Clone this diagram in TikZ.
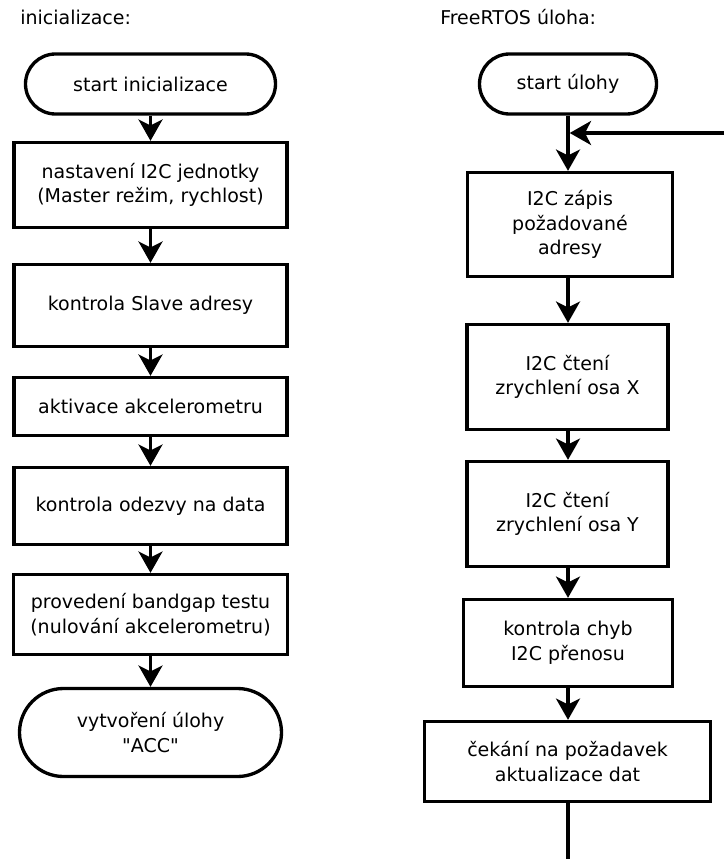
\documentclass[tikz,border=0pt]{standalone}
\usepackage{fontspec}
\setmainfont{DejaVu Sans}[Ligatures=TeXOff]
\usetikzlibrary{arrows.meta}

\tikzset{
  box/.style={draw, line width=2.5pt, rectangle, align=center, inner sep=0pt,
    font=\fontsize{14.25pt}{18.4pt}\selectfont},
  term/.style={box, rounded corners=#1},
  arr/.style={line width=2.5pt, -{Stealth[length=16pt, width=18pt, inset=4.5pt]}},
  flow/.style={line width=2.5pt},
  heading/.style={anchor=base west, inner sep=0pt, font=\fontsize{14.25pt}{18.4pt}\selectfont}
}

\begin{document}
\begin{tikzpicture}[x=0.75pt, y=-0.75pt]
  \useasboundingbox (0,0) rectangle (724,859);

  % column headings
  \node[heading] (hl) at (20,25) {inicializace:};
  \node[heading] (hr) at (440,25) {FreeRTOS úloha:};

  % initialisation sequence
  \node[term=22.5pt, minimum width=250*0.75pt, minimum height=60*0.75pt] (t1) at (150.5,84) {start inicializace};
  \node[box, minimum width=273*0.75pt, minimum height=85*0.75pt] (b1) at (150.5,185) {nastavení I2C jednotky\\(Master režim, rychlost)};
  \node[box, minimum width=273*0.75pt, minimum height=82*0.75pt] (b2) at (150.5,305.5) {kontrola Slave adresy};
  \node[box, minimum width=273*0.75pt, minimum height=58*0.75pt] (b3) at (150.5,406.5) {aktivace akcelerometru};
  \node[box, minimum width=273*0.75pt, minimum height=77*0.75pt] (b4) at (150.5,506) {kontrola odezvy na data};
  \node[box, minimum width=274*0.75pt, minimum height=80*0.75pt] (b5) at (150.5,614.5) {provedení bandgap testu\\(nulování akcelerometru)};
  \node[term=33pt, minimum width=262*0.75pt, minimum height=88*0.75pt] (t2) at (150.5,732.5) {vytvoření úlohy\\"ACC"};

  \draw[arr] (t1) -- (b1);
  \draw[arr] (b1) -- (b2);
  \draw[arr] (b2) -- (b3);
  \draw[arr] (b3) -- (b4);
  \draw[arr] (b4) -- (b5);
  \draw[arr] (b5) -- (t2);

  % task loop
  \node[term=22.5pt, minimum width=177*0.75pt, minimum height=60*0.75pt] (t3) at (568,84) {start úlohy};
  \node[box, minimum width=205*0.75pt, minimum height=104*0.75pt] (ba) at (570,224.5) {I2C zápis\\požadované\\adresy};
  \node[box, minimum width=201*0.75pt, minimum height=105*0.75pt] (bb) at (567.5,377) {I2C čtení\\zrychlení osa X};
  \node[box, minimum width=201*0.75pt, minimum height=105*0.75pt] (bc) at (567.5,514) {I2C čtení\\zrychlení osa Y};
  \node[box, minimum width=209*0.75pt, minimum height=87*0.75pt] (bd) at (568,643) {kontrola chyb\\I2C přenosu};
  \node[box, minimum width=286*0.75pt, minimum height=80*0.75pt] (be) at (567.5,761.5) {čekání na požadavek\\aktualizace dat};

  \coordinate (loopin) at (724,133);
  \coordinate (join) at (569.7,133);
  \coordinate (loopout) at (568,859);

  \draw[arr] (t3.south) -- (t3.south |- ba.north);
  \draw[arr] (loopin) -- (join);
  \draw[arr] (ba.south -| t3.south) -- (bb.north -| t3.south);
  \draw[arr] (bb.south -| t3.south) -- (bc.north -| t3.south);
  \draw[arr] (bc.south -| t3.south) -- (bd.north -| t3.south);
  \draw[arr] (bd.south -| t3.south) -- (be.north -| t3.south);
  \draw[flow] (be.south -| t3.south) -- (loopout);
\end{tikzpicture}
\end{document}
